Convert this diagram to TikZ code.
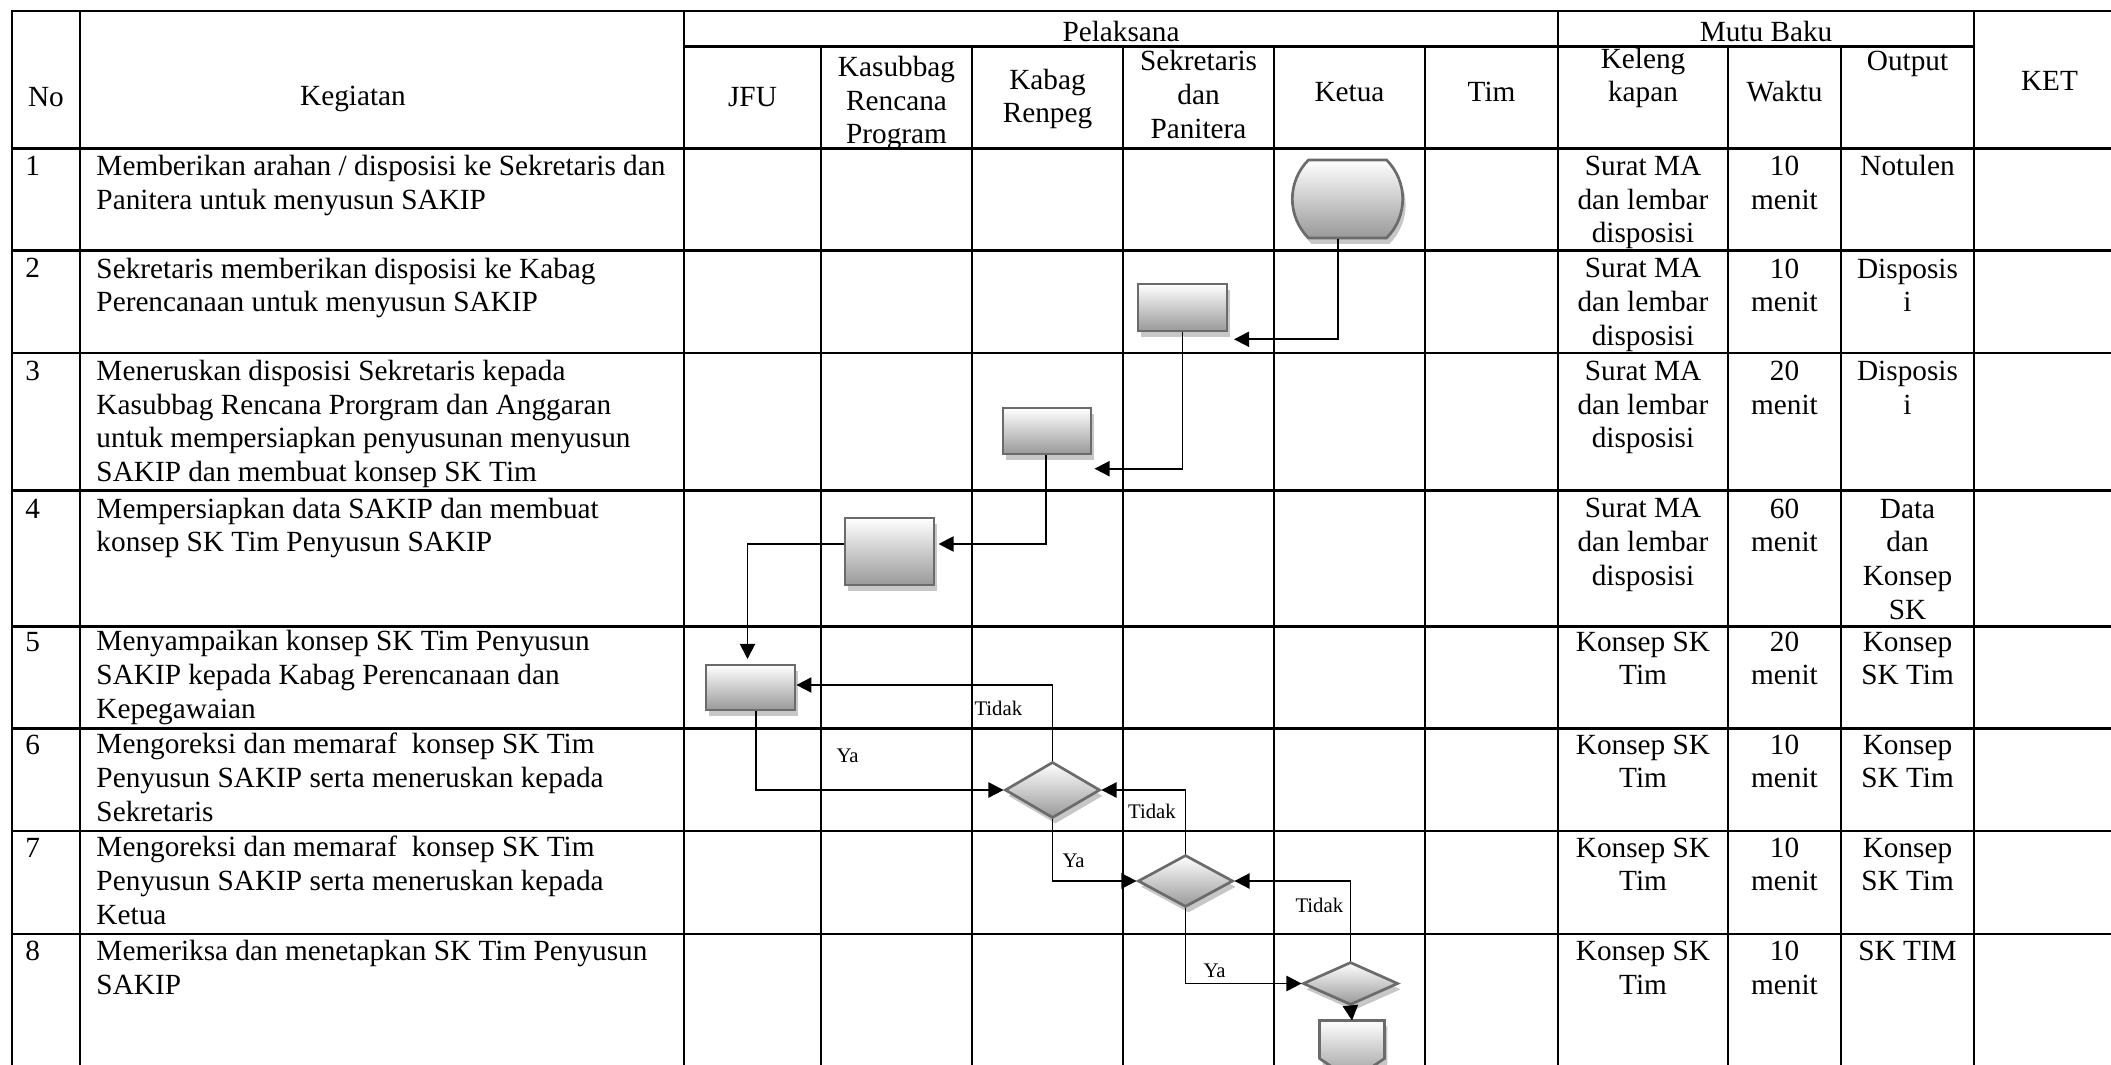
\documentclass[tikz,border=0pt]{standalone}
\usepackage{fontspec}
\setmainfont{Liberation Serif}
\usetikzlibrary{arrows.meta,shapes.geometric,shapes.misc,shadows,calc}
\begin{document}
\begin{tikzpicture}[x=0.41pt,y=-0.41pt,
  grid/.style={line width=1.05pt, line cap=rect},
  conn/.style={line width=0.8pt},
  arr/.style={conn,-{Triangle[length=6.2pt,width=6.2pt]}},
  shp/.style={draw=black!58, line width=1.1pt, top color=white, bottom color=black!40, inner sep=0pt,
     drop shadow={shadow xshift=1.2pt, shadow yshift=-2.4pt, fill=black!22, opacity=1}},
  box/.style={shp, rectangle},
  dec/.style={shp, diamond},
  txt/.style={font=\fontsize{12}{13.8}\selectfont, inner sep=0pt},
  lt/.style={txt, align=left, anchor=base west},
  ct/.style={txt, align=center, anchor=base},
  lbl/.style={font=\fontsize{8.5}{10}\selectfont, inner sep=0pt, anchor=base west},
]
% note: multi-line nodes are placed by the baseline of their LAST line
\useasboundingbox (0,0) rectangle (2111,1065);
\clip (0,0) rectangle (2111,1065);
\fill[white] (0,0) rectangle (2111,1065);

% ---------- table grid ----------
\draw[grid] (12,11) -- (2111,11);
\foreach \y in {148.5,250.7,353,490.7,626.7,728.3,831.2,934}
  \draw[grid] (12,\y) -- (2111,\y);
\draw[grid] (684,46.7) -- (1974,46.7);
\foreach \x in {12,80,684,1558,1974}
  \draw[grid] (\x,11) -- (\x,1070);
\foreach \x in {821,972,1123,1274,1425,1728,1841}
  \draw[grid] (\x,46.7) -- (\x,1070);

% ---------- header ----------
\node[ct] (hNo)  at (46,106.7)    {No};
\node[ct] (hKeg) at (353,106)     {Kegiatan};
\node[ct] (hPel) at (1121,41.7)   {Pelaksana};
\node[ct] (hMutu) at (1766,42)    {Mutu Baku};
\node[ct] (hJFU) at (752.5,106.7) {JFU};
\node[ct] (hKas) at (896.5,144)   {Kasubbag\\Rencana\\Program};
\node[ct] (hKab) at (1047.5,122.7) {Kabag\\Renpeg};
\node[ct] (hSek) at (1198.5,138.3) {Sekretaris\\dan\\Panitera};
\node[ct] (hKet) at (1349.5,102)  {Ketua};
\node[ct] (hTim) at (1491.5,102)  {Tim};
\node[ct] (hKel) at (1643,101.7)  {Keleng\\kapan};
\node[ct] (hWak) at (1784.5,102)  {Waktu};
\node[ct] (hOut) at (1907.5,71)   {Output};
\node[ct] (hKET) at (2049.5,90.7) {KET};

% ---------- rows ----------
\node[lt] (n1) at (25,175.5) {1};
\node[lt] (k1) at (96,209.2) {Memberikan arahan / disposisi ke Sekretaris dan\\Panitera untuk menyusun SAKIP};
\node[ct] (l1) at (1643,242.8) {Surat MA\\dan lembar\\disposisi};
\node[ct] (w1) at (1784.5,209.2) {10\\menit};
\node[ct] (o1) at (1907.5,175.5) {Notulen};

\node[lt] (n2) at (25,278) {2};
\node[lt] (k2) at (96,311.7) {Sekretaris memberikan disposisi ke Kabag\\Perencanaan untuk menyusun SAKIP};
\node[ct] (l2) at (1643,345.3) {Surat MA\\dan lembar\\disposisi};
\node[ct] (w2) at (1784.5,311.7) {10\\menit};
\node[ct] (o2) at (1907.5,311.7) {Disposis\\i};

\node[lt] (n3) at (25,380.5) {3};
\node[lt] (k3) at (96,481.5) {Meneruskan disposisi Sekretaris kepada\\Kasubbag Rencana Prorgram dan Anggaran\\untuk mempersiapkan penyusunan menyusun\\SAKIP dan membuat konsep SK Tim};
\node[ct] (l3) at (1643,447.8) {Surat MA\\dan lembar\\disposisi};
\node[ct] (w3) at (1784.5,414.2) {20\\menit};
\node[ct] (o3) at (1907.5,414.2) {Disposis\\i};

\node[lt] (n4) at (25,518) {4};
\node[lt] (k4) at (96,551.7) {Mempersiapkan data SAKIP dan membuat\\konsep SK Tim Penyusun SAKIP};
\node[ct] (l4) at (1643,585.3) {Surat MA\\dan lembar\\disposisi};
\node[ct] (w4) at (1784.5,551.7) {60\\menit};
\node[ct] (o4) at (1907.5,619) {Data\\dan\\Konsep\\SK};

\node[lt] (n5) at (25,651) {5};
\node[lt] (k5) at (96,718.3) {Menyampaikan konsep SK Tim Penyusun\\SAKIP kepada Kabag Perencanaan dan\\Kepegawaian};
\node[ct] (l5) at (1643,684.7) {Konsep SK\\Tim};
\node[ct] (w5) at (1784.5,684.7) {20\\menit};
\node[ct] (o5) at (1907.5,684.7) {Konsep\\SK Tim};

\node[lt] (n6) at (25,754) {6};
\node[lt] (k6) at (96,821.3) {Mengoreksi dan memaraf\ \ konsep SK Tim\\Penyusun SAKIP serta meneruskan kepada\\Sekretaris};
\node[ct] (l6) at (1643,787.7) {Konsep SK\\Tim};
\node[ct] (w6) at (1784.5,787.7) {10\\menit};
\node[ct] (o6) at (1907.5,787.7) {Konsep\\SK Tim};

\node[lt] (n7) at (25,857) {7};
\node[lt] (k7) at (96,924.3) {Mengoreksi dan memaraf\ \ konsep SK Tim\\Penyusun SAKIP serta meneruskan kepada\\Ketua};
\node[ct] (l7) at (1643,890.7) {Konsep SK\\Tim};
\node[ct] (w7) at (1784.5,890.7) {10\\menit};
\node[ct] (o7) at (1907.5,890.7) {Konsep\\SK Tim};

\node[lt] (n8) at (25,960.5) {8};
\node[lt] (k8) at (96,994.2) {Memeriksa dan menetapkan SK Tim Penyusun\\SAKIP};
\node[ct] (l8) at (1643,994.2) {Konsep SK\\Tim};
\node[ct] (w8) at (1784.5,994.2) {10\\menit};
\node[ct] (o8) at (1907.5,960.5) {SK TIM};

% ---------- flow shapes ----------
\node[shp, rounded rectangle, rounded rectangle arc length=90, minimum width=36.5pt, minimum height=32pt] (T1) at (1347.5,199) {};
\node[box, minimum width=36.5pt, minimum height=19.3pt] (B2) at (1182.5,307.5) {};
\node[box, minimum width=36.1pt, minimum height=18.9pt] (B3) at (1047,431) {};
\node[box, minimum width=36.5pt, minimum height=27.5pt] (B4) at (889.5,551.5) {};
\node[box, minimum width=36.5pt, minimum height=18.5pt] (B5) at (750.5,687.5) {};
\node[dec, minimum width=39pt, minimum height=23pt] (D1) at (1052.5,790) {};
\node[dec, minimum width=39pt, minimum height=21.3pt] (D2) at (1185.5,881) {};
\node[dec, minimum width=39pt, minimum height=17.6pt] (D3) at (1350.5,983.5) {};
\node[inner sep=0pt, minimum width=26.2pt, minimum height=24.2pt] (Off) at (1352,1050.5) {};
\fill[black!22] ([xshift=1.2pt,yshift=-2.4pt]Off.north west) -- ([xshift=1.2pt,yshift=-2.4pt]Off.north east)
  -- ([xshift=1.2pt,yshift=-2.4pt]$(Off.south east)+(0,-22)$) -- ([xshift=1.2pt,yshift=-2.4pt]Off.south)
  -- ([xshift=1.2pt,yshift=-2.4pt]$(Off.south west)+(0,-22)$) -- cycle;
\shadedraw[draw=black!58, line width=1.1pt, top color=white, bottom color=black!40]
  (Off.north west) -- (Off.north east) -- ($(Off.south east)+(0,-22)$) -- (Off.south)
  -- ($(Off.south west)+(0,-22)$) -- cycle;

% ---------- connectors ----------
\coordinate (a1) at (1234,339.3);
\coordinate (a2) at (1094.5,468.7);
\coordinate (a3) at (938.5,544);
\coordinate (a4) at (747.5,659);
\draw[arr] ($(T1.south)+(-9.5,0)$) |- (a1);
\draw[arr] (B2.south) |- (a2);
\draw[arr] ($(B3.south)+(-1,0)$) |- (a3);
\draw[arr] (B4.west |- a3) -| (a4);
\draw[arr] (D1.north) |- ($(B5.east)+(0,-2.5)$);
\draw[arr] ($(B5.south)+(5.5,0)$) |- (D1.west);
\draw[arr] (D2.north) |- (D1.east);
\draw[arr] (D1.south) |- (D2.west);
\draw[arr] (D3.north) |- (D2.east);
\draw[arr] (D2.south) |- (D3.west);
\draw[arr] (D3.south) -- (Off.north);

% ---------- labels ----------
\node[lbl] (t1) at (974,715)    {Tidak};
\node[lbl] (t2) at (1127.6,818) {Tidak};
\node[lbl] (t3) at (1295,912)   {Tidak};
\node[lbl] (y1) at (836,762)    {Ya};
\node[lbl] (y2) at (1062,867)   {Ya};
\node[lbl] (y3) at (1203,977)   {Ya};
\end{tikzpicture}
\end{document}
